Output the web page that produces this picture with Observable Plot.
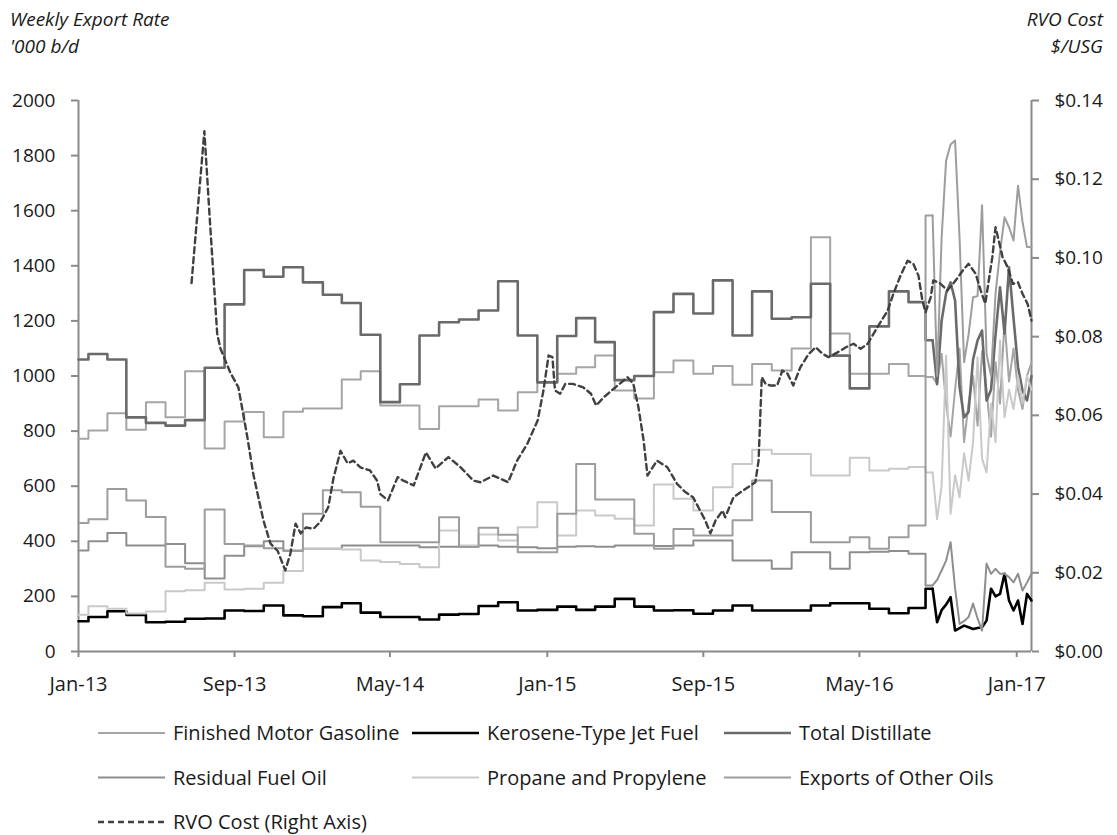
<!DOCTYPE html>
<html><head><meta charset="utf-8">
<script src="https://cdn.jsdelivr.net/npm/d3@7"></script>
<script src="https://cdn.jsdelivr.net/npm/@observablehq/plot@0.6"></script>
<style>
html,body{margin:0;padding:0;background:#fff;}
#chart{position:relative;width:1117px;height:835px;}
</style></head><body><div id="chart"></div>
<script>
// ---------- DATA ----------
// Monthly (4-week) export rates, Jan-2013 .. Aug-2016, '000 b/d
const monthFirst = "2013-01-01";
const monthStop = "2016-09-01"; // exclusive
const gasolineMonthly = [772,802,865,805,905,850,1017,737,835,869,778,870,
  882,882,987,1017,893,893,808,890,890,915,875,941,
  977,1008,1032,1074,947,918,1014,1056,1008,1036,968,1044,
  1020,1100,1504,1154,1008,1008,1044,1000];
const jetMonthly = [110,125,146,133,106,108,119,120,149,147,167,131,
  128,161,175,141,125,125,116,134,136,165,179,149,
  151,163,151,163,191,163,149,150,137,149,167,149,
  149,149,167,175,175,155,139,158];
const distillateMonthly = [1060,1080,1060,850,830,820,840,1030,1260,1385,1360,1395,
  1340,1295,1265,1150,905,970,1147,1195,1205,1238,1344,1147,
  977,1145,1210,1123,985,1000,1232,1298,1227,1347,1147,1307,
  1208,1213,1335,1074,955,1180,1307,1268];
const residualMonthly = [367,400,430,385,385,390,320,265,348,382,400,367,
  373,373,385,385,385,385,378,380,382,385,380,378,
  375,380,382,380,385,385,383,385,403,403,330,330,
  300,360,360,300,360,362,365,355];
const propaneMonthly = [133,164,155,138,145,219,222,250,225,228,250,292,
  373,373,370,330,325,318,306,439,385,425,403,451,
  542,421,512,494,482,457,606,554,512,596,681,732,
  717,717,639,639,703,657,663,670];
const otherMonthly = [466,480,590,548,488,308,300,515,390,385,375,365,
  500,585,578,525,397,397,397,487,379,449,424,360,
  360,500,681,552,552,427,373,445,421,421,476,621,
  506,506,397,397,415,373,415,457];

// Weekly export rates, late 2016 .. Jan 2017
const weekDates = ["2016-08-23","2016-08-30","2016-09-06","2016-09-13","2016-09-20","2016-09-27",
  "2016-10-04","2016-10-11","2016-10-18","2016-10-25","2016-11-01","2016-11-08","2016-11-15",
  "2016-11-22","2016-11-29","2016-12-06","2016-12-13","2016-12-20","2016-12-27","2017-01-03",
  "2017-01-10","2017-01-17","2017-01-24"];
const gasolineWeekly = [996,972,1081,900,780,950,1100,760,900,1000,820,1090,950,780,1050,900,1200,980,1100,950,880,1000,1050];
const jetWeekly = [228,106,150,170,197,76,85,94,88,82,85,88,112,228,200,209,282,185,149,185,100,209,185];
const distillateWeekly = [1130,970,1200,1300,1340,1274,960,850,870,1060,1129,1165,911,950,1150,1322,1154,1395,1210,1032,947,911,1000];
const residualWeekly = [240,260,294,330,397,230,100,110,125,174,120,76,319,282,300,282,282,270,251,282,221,250,282];
const propaneWeekly = [650,480,600,1074,500,640,560,720,620,760,1068,700,650,900,760,1129,850,950,880,1000,900,1000,950];
const otherWeekly = [1583,1000,1500,1782,1840,1855,1500,1050,1150,1286,1290,1620,1080,1000,1300,1450,1576,1540,1492,1691,1560,1468,1468];

// RVO cost, $/USG (right axis)
const rvoDates = ["2013-06-26","2013-07-16","2013-07-24","2013-08-05","2013-08-10","2013-08-25","2013-09-07","2013-09-21","2013-09-30",
  "2013-10-16","2013-10-27","2013-11-07","2013-11-19","2013-11-27","2013-12-05","2013-12-13","2013-12-21",
  "2014-01-02","2014-01-13","2014-01-25","2014-02-02","2014-02-13","2014-02-24","2014-03-05","2014-03-16","2014-03-31",
  "2014-04-11","2014-04-16","2014-04-28","2014-05-13","2014-05-22","2014-06-07","2014-06-26","2014-07-11","2014-07-31",
  "2014-08-19","2014-09-08","2014-09-19","2014-10-09","2014-11-01","2014-11-15","2014-12-01","2014-12-17","2014-12-26",
  "2015-01-03","2015-01-09","2015-01-13","2015-01-21","2015-01-29","2015-02-10","2015-02-26","2015-03-10","2015-03-18",
  "2015-03-30","2015-04-14","2015-05-06","2015-05-15","2015-05-23","2015-05-31","2015-06-06","2015-06-14","2015-06-21",
  "2015-07-07","2015-07-22","2015-08-04","2015-08-16","2015-08-27","2015-09-04","2015-09-12","2015-09-20","2015-10-01",
  "2015-10-05","2015-10-18","2015-11-02","2015-11-21","2015-11-26","2015-12-01","2015-12-07","2015-12-14","2015-12-25",
  "2016-01-02","2016-01-10","2016-01-19","2016-01-30","2016-02-12","2016-02-23","2016-03-05","2016-03-14","2016-03-28",
  "2016-04-10","2016-04-22","2016-05-03","2016-05-14","2016-05-29","2016-06-14","2016-06-23","2016-07-04","2016-07-15",
  "2016-07-24","2016-08-01","2016-08-07","2016-08-12","2016-08-20","2016-08-24","2016-09-04","2016-09-15","2016-09-28",
  "2016-10-09","2016-10-18","2016-10-29","2016-11-06","2016-11-13","2016-11-24","2016-11-29","2016-12-04","2016-12-10",
  "2016-12-18","2016-12-26","2017-01-03","2017-01-10","2017-01-18","2017-01-24"];
const rvoValues = [0.0936,0.1322,0.111,0.0807,0.077,0.071,0.0671,0.0544,0.0452,
  0.0333,0.0274,0.0256,0.0206,0.0249,0.0325,0.030,0.0315,
  0.0312,0.033,0.0367,0.044,0.051,0.0478,0.0485,0.0468,0.046,
  0.0434,0.040,0.0384,0.0443,0.0434,0.0422,0.0506,0.0465,0.0494,
  0.0468,0.0434,0.043,0.0447,0.043,0.0485,0.0528,0.0587,0.0663,
  0.0752,0.0748,0.0663,0.0655,0.068,0.068,0.0671,0.0655,0.0625,
  0.0646,0.0667,0.0697,0.068,0.062,0.0536,0.0447,0.0468,0.0485,
  0.0468,0.0426,0.0405,0.0392,0.0358,0.0333,0.030,0.0333,0.0358,
  0.0341,0.0392,0.0409,0.043,0.0485,0.0697,0.068,0.0676,0.0676,
  0.0714,0.0706,0.0676,0.0722,0.0756,0.0773,0.0756,0.0748,0.076,
  0.0773,0.0782,0.0769,0.0782,0.0824,0.0866,0.0909,0.0955,0.0993,
  0.0985,0.0955,0.0892,0.0862,0.09,0.0943,0.0935,0.0917,0.0943,
  0.0968,0.0985,0.096,0.0917,0.0884,0.1002,0.1078,0.1044,0.1002,
  0.0976,0.0934,0.0938,0.0909,0.0883,0.0841];

const seriesNames = ["Finished Motor Gasoline","Kerosene-Type Jet Fuel","Total Distillate",
  "Residual Fuel Oil","Propane and Propylene","Exports of Other Oils"];
const rvoName = "RVO Cost (Right Axis)";
const leftTicks = [0,200,400,600,800,1000,1200,1400,1600,1800,2000];
const rightTicks = [0,0.02,0.04,0.06,0.08,0.10,0.12,0.14];
const xTicks = ["2013-01-01","2013-09-01","2014-05-01","2015-01-01","2015-09-01","2016-05-01","2017-01-01"];

// ---------- STYLE ----------
const seriesColors = ["#a5a5a5","#000000","#6a6a6a","#8e8e8e","#c9c9c9","#9d9d9d"];
const seriesWidths = [2,2.6,2.6,2,2,2];
const rvoColor = "#404040";
const axisColor = "#8a8a8a";
const font = "'Open Sans', 'Noto Sans', sans-serif";

// ---------- BUILD ----------
const parse = d3.utcParse("%Y-%m-%d");
const months = d3.utcMonth.range(parse(monthFirst), parse(monthStop));
const weeks = weekDates.map(parse);
const monthlyAll = [gasolineMonthly, jetMonthly, distillateMonthly, residualMonthly, propaneMonthly, otherMonthly];
const weeklyAll = [gasolineWeekly, jetWeekly, distillateWeekly, residualWeekly, propaneWeekly, otherWeekly];
const RVO_SCALE = 2000 / 0.14;
const xStart = parse("2013-01-01"), xEnd = parse("2017-01-24");

const marks = [
  Plot.ruleY([0], {stroke: axisColor, strokeWidth: 2}),
  Plot.ruleX([xStart], {stroke: axisColor, strokeWidth: 2}),
  Plot.ruleX([xEnd], {stroke: axisColor, strokeWidth: 2}),
  Plot.axisY({ticks: leftTicks, tickSize: 7, tickPadding: 16, fontSize: 19, stroke: axisColor, strokeWidth: 2, fill: "#1a1a1a", label: null, tickFormat: d => String(d)}),
  Plot.axisY({anchor: "right", ticks: rightTicks.map(v => v * RVO_SCALE), tickSize: 7, tickPadding: 16, fontSize: 19,
    stroke: axisColor, strokeWidth: 2, fill: "#1a1a1a", label: null, tickFormat: d => "$" + (d / RVO_SCALE).toFixed(2)}),
  Plot.axisX({ticks: xTicks.map(parse), tickFormat: d3.utcFormat("%b-%y"), tickSize: 6, tickPadding: 19, fontSize: 20,
    stroke: axisColor, strokeWidth: 2, fill: "#1a1a1a", label: null})
];

seriesNames.forEach((name, k) => {
  const m = monthlyAll[k], w = weeklyAll[k];
  const mData = months.map((d, i) => ({date: d, value: m[i]})).concat([{date: weeks[0], value: w[0]}]);
  const wData = weeks.map((d, i) => ({date: d, value: w[i]}));
  marks.push(Plot.line(mData, {x: "date", y: "value", curve: "step", stroke: seriesColors[k], strokeWidth: seriesWidths[k], strokeLinejoin: "round"}));
  marks.push(Plot.line(wData, {x: "date", y: "value", stroke: seriesColors[k], strokeWidth: seriesWidths[k], strokeLinejoin: "round"}));
});

const rvo = rvoDates.map((d, i) => ({date: parse(d), value: rvoValues[i]}));
marks.push(Plot.line(rvo, {x: "date", y: d => d.value * RVO_SCALE, stroke: rvoColor, strokeWidth: 2.4, strokeDasharray: "6,4"}));

const svg = Plot.plot({
  width: 1117, height: 835,
  marginTop: 100, marginBottom: 184, marginLeft: 78, marginRight: 86,
  style: {fontFamily: font, background: "#fff", color: "#1a1a1a", overflow: "visible"},
  x: {type: "utc", domain: [xStart, xEnd]},
  y: {domain: [0, 2000]},
  marks
});

const s = d3.select(svg);
// titles
const tl = s.append("g").attr("font-family", font).attr("font-style", "italic").attr("font-size", 19)
  .attr("fill", "#1a1a1a").attr("text-anchor", "start");
tl.append("text").attr("x", 10).attr("y", 26).attr("text-anchor", "start").text("Weekly Export Rate");
tl.append("text").attr("x", 10).attr("y", 53).attr("text-anchor", "start").text("'000 b/d");
tl.append("text").attr("x", 1103).attr("y", 26).attr("text-anchor", "end").text("RVO Cost");
tl.append("text").attr("x", 1103).attr("y", 53).attr("text-anchor", "end").text("$/USG");

// legend
const legendItems = [
  {name: seriesNames[0], col: 0, row: 0, color: seriesColors[0], w: seriesWidths[0]},
  {name: seriesNames[1], col: 1, row: 0, color: seriesColors[1], w: seriesWidths[1]},
  {name: seriesNames[2], col: 2, row: 0, color: seriesColors[2], w: seriesWidths[2]},
  {name: seriesNames[3], col: 0, row: 1, color: seriesColors[3], w: seriesWidths[3]},
  {name: seriesNames[4], col: 1, row: 1, color: seriesColors[4], w: seriesWidths[4]},
  {name: seriesNames[5], col: 2, row: 1, color: seriesColors[5], w: seriesWidths[5]},
  {name: rvoName, col: 0, row: 2, color: rvoColor, w: 2.4, dash: "6,4"}
];
const colX = [98, 412, 724];
const rowY = [733, 777.5, 822];
const lg = s.append("g").attr("font-family", font).attr("font-size", 20).attr("fill", "#1a1a1a").attr("text-anchor", "start");
legendItems.forEach(it => {
  const x0 = colX[it.col], y0 = rowY[it.row];
  lg.append("line").attr("x1", x0).attr("x2", x0 + 67).attr("y1", y0).attr("y2", y0)
    .attr("stroke", it.color).attr("stroke-width", it.w).attr("stroke-dasharray", it.dash || null);
  lg.append("text").attr("x", x0 + 75).attr("y", y0).attr("dy", "0.35em").attr("text-anchor", "start").text(it.name);
});

document.getElementById("chart").appendChild(svg);
</script></body></html>
